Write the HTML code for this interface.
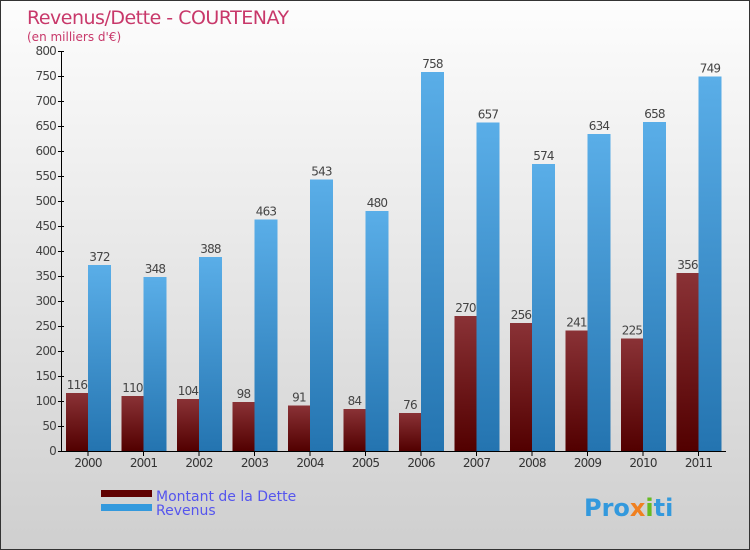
<!DOCTYPE html>
<html><head><meta charset="utf-8"><style>
body{margin:0}
#wrap{position:relative;width:750px;height:550px;box-sizing:border-box;border:1px solid #333;background:linear-gradient(#fdfdfd,#cfcfcf);font-family:"DejaVu Sans","Liberation Sans",sans-serif;overflow:hidden}
svg text{font-family:"DejaVu Sans","Liberation Sans",sans-serif}
</style></head><body>
<div id="wrap">
<svg id="c" width="750" height="550">
<defs>
<linearGradient id="gr" x1="0" y1="0" x2="0" y2="1"><stop offset="0" stop-color="#8a3236"/><stop offset="1" stop-color="#520000"/></linearGradient>
<linearGradient id="gb" x1="0" y1="0" x2="0" y2="1"><stop offset="0" stop-color="#5aaee8"/><stop offset="1" stop-color="#2474b0"/></linearGradient>
</defs>
<text x="26" y="23" font-size="19" fill="#c8386a" letter-spacing="-0.5">Revenus/Dette - COURTENAY</text>
<text x="26" y="40" font-size="12" fill="#c8386a">(en milliers d'€)</text>
<g id="g"></g>
<g>
<rect x="100" y="489" width="51" height="7" fill="#600000"/>
<rect x="100" y="503" width="51" height="7" fill="#3399dd"/>
<text x="155" y="500" font-size="14" fill="#5555ee">Montant de la Dette</text>
<text x="155" y="514" font-size="14" fill="#5555ee">Revenus</text>
</g>
<text x="583" y="515" font-size="24" font-weight="bold" fill="#3399dd">Pro<tspan fill="#f08020">x</tspan><tspan fill="#66bb22">i</tspan>ti</text>
</svg>
</div>
<script>
const years=["2000","2001","2002","2003","2004","2005","2006","2007","2008","2009","2010","2011"];
const dette=[116,110,104,98,91,84,76,270,256,241,225,356];
const revenus=[372,348,388,463,543,480,758,657,574,634,658,749];
const yTicks=[0,50,100,150,200,250,300,350,400,450,500,550,600,650,700,750,800];
const NS="http://www.w3.org/2000/svg";
const g=document.getElementById('g');
const X0=59.5,STEP=55.5,Y0=450,YMAX=800,YH=400;
const y=v=>Y0-v/YMAX*YH;
const xc=i=>X0+STEP*i+27.5;
function el(t,a,txt){const e=document.createElementNS(NS,t);for(const k in a)e.setAttribute(k,a[k]);if(txt!=null)e.textContent=txt;g.appendChild(e);return e;}
let ax=el('line',{x1:60.5,y1:50,x2:60.5,y2:450.5,stroke:'#000'});


let bx=el('line',{x1:60,y1:450.5,x2:725,y2:450.5,stroke:'#000'});


yTicks.forEach(v=>{
 let t=el('line',{x1:57,x2:63,y1:y(v)+.5,y2:y(v)+.5,stroke:'#000'});
 
 
 let l=el('text',{x:55,y:y(v)+4,'font-size':12,fill:'#444','text-anchor':'end','letter-spacing':'-0.8'},v);
 
 
});
years.forEach((yr,i)=>{
 const c=xc(i);
 let t=el('line',{x1:c,x2:c,y1:450,y2:455,stroke:'#000'});
 
 
 let l=el('text',{x:c,y:466,'font-size':12,fill:'#333','text-anchor':'middle','letter-spacing':'-0.8'},yr);
 
 
 let b1=el('rect',{x:c-22,y:y(dette[i]),width:22,height:Y0-y(dette[i]),fill:'url(#gr)'});
 
 
 let b2=el('rect',{x:c,y:y(revenus[i]),width:23,height:Y0-y(revenus[i]),fill:'url(#gb)'});
 
 
 let v1=el('text',{x:c-11,y:y(dette[i])-4,'font-size':12,fill:'#444','text-anchor':'middle','letter-spacing':'-0.8'},dette[i]);
 
 
 let v2=el('text',{x:c+11.5,y:y(revenus[i])-4,'font-size':12,fill:'#444','text-anchor':'middle','letter-spacing':'-0.8'},revenus[i]);
 
 
});
</script>
</body></html>
